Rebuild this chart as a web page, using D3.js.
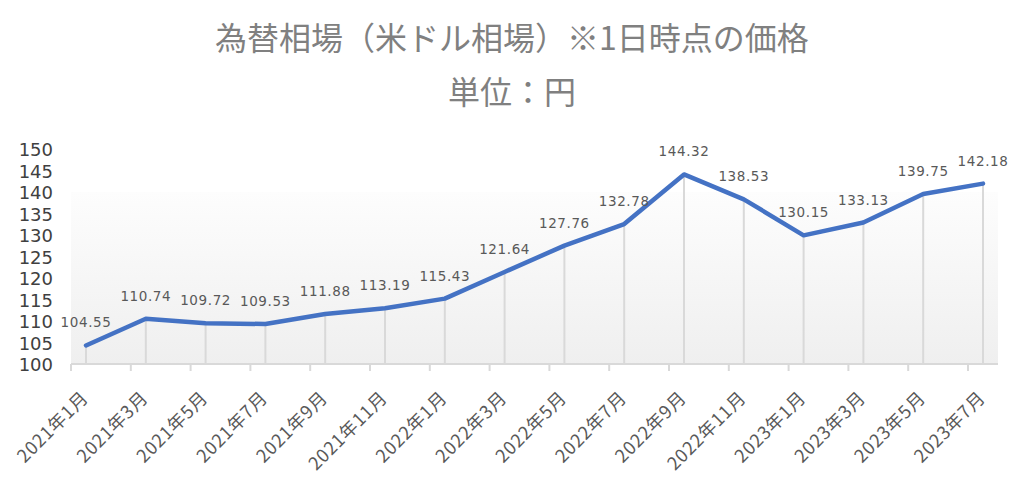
<!DOCTYPE html>
<html><head><meta charset="utf-8">
<script src="https://cdn.jsdelivr.net/npm/d3@7"></script>
<style>
html,body{margin:0;padding:0;background:#fff;}
svg{display:block;}
</style></head>
<body>
<svg id="chart" width="1024" height="486"></svg>
<script>
const categories = ["2021年1月","2021年3月","2021年5月","2021年7月","2021年9月","2021年11月","2022年1月","2022年3月","2022年5月","2022年7月","2022年9月","2022年11月","2023年1月","2023年3月","2023年5月","2023年7月"];
const rates = [104.55,110.74,109.72,109.53,111.88,113.19,115.43,121.64,127.76,132.78,144.32,138.53,130.15,133.13,139.75,142.18];
const yTicks = [100,105,110,115,120,125,130,135,140,145,150];
const titleLines = ["為替相場（米ドル相場）※1日時点の価格","単位：円"];

const svg = d3.select("#chart");
const plotLeft = 71, plotRight = 998, plotTop = 192;
const x = d3.scalePoint().domain(categories).range([86, 983]);
const y = d3.scaleLinear().domain([100,150]).range([365,150]);
const axisY = y(100) - 1;

// gradient background
const defs = svg.append("defs");
const grad = defs.append("linearGradient").attr("id","bg").attr("x1",0).attr("y1",0).attr("x2",0).attr("y2",1);
grad.append("stop").attr("offset","0%").attr("stop-color","#fdfdfd");
grad.append("stop").attr("offset","100%").attr("stop-color","#efefef");
svg.append("rect").attr("x",plotLeft).attr("y",plotTop).attr("width",plotRight-plotLeft).attr("height",axisY-plotTop).attr("fill","url(#bg)");

// titles
svg.append("text").attr("x",512).attr("y",50).attr("text-anchor","middle")
  .attr("font-family","'Noto Sans CJK JP'").attr("font-size",32).attr("fill","#808080").text(titleLines[0]);
svg.append("text").attr("x",512).attr("y",104).attr("text-anchor","middle")
  .attr("font-family","'Noto Sans CJK JP'").attr("font-size",32).attr("fill","#808080").text(titleLines[1]);

// drop lines
svg.append("g").selectAll("line").data(rates).join("line")
  .attr("x1",(d,i)=>x(categories[i])).attr("x2",(d,i)=>x(categories[i]))
  .attr("y1",d=>y(d)).attr("y2",axisY)
  .attr("stroke","#d9d9d9").attr("stroke-width",2);

// x axis line and ticks
svg.append("line").attr("x1",plotLeft).attr("x2",plotRight).attr("y1",axisY).attr("y2",axisY)
  .attr("stroke","#d9d9d9").attr("stroke-width",2);
svg.append("g").selectAll("line").data(categories).join("line")
  .attr("x1",d=>x(d)-15).attr("x2",d=>x(d)-15).attr("y1",axisY).attr("y2",axisY+7)
  .attr("stroke","#d9d9d9").attr("stroke-width",2);

// x labels via axis
const xAxis = svg.append("g").attr("transform",`translate(0,${axisY})`)
  .call(d3.axisBottom(x).tickSize(0).tickPadding(0));
xAxis.select(".domain").remove();
xAxis.selectAll("text")
  .attr("font-family","'Noto Sans CJK JP'").attr("font-size",18).attr("letter-spacing",0.8).attr("fill","#595959")
  .attr("text-anchor","end").attr("dy",0).attr("y",0)
  .attr("transform","translate(3,35) rotate(-45)");

// y labels via axis
const yAxis = svg.append("g").attr("transform","translate(53,0)")
  .call(d3.axisLeft(y).tickValues(yTicks).tickSize(0).tickPadding(0));
yAxis.select(".domain").remove();
yAxis.selectAll("text").attr("font-family","'DejaVu Sans'").attr("font-size",18).attr("fill","#404040");

// line
svg.append("path").datum(rates)
  .attr("d", d3.line().x((d,i)=>x(categories[i])).y(d=>y(d)))
  .attr("fill","none").attr("stroke","#4472C4").attr("stroke-width",4.5)
  .attr("stroke-linejoin","round").attr("stroke-linecap","round");

// data labels
svg.append("g").selectAll("text").data(rates).join("text")
  .attr("x",(d,i)=>x(categories[i])).attr("y",d=>y(d)-18)
  .attr("text-anchor","middle").attr("font-family","'DejaVu Sans'").attr("font-size",13.5)
  .attr("letter-spacing",0.6).attr("fill","#595959")
  .text(d=>d.toFixed(2));
</script>
</body></html>
